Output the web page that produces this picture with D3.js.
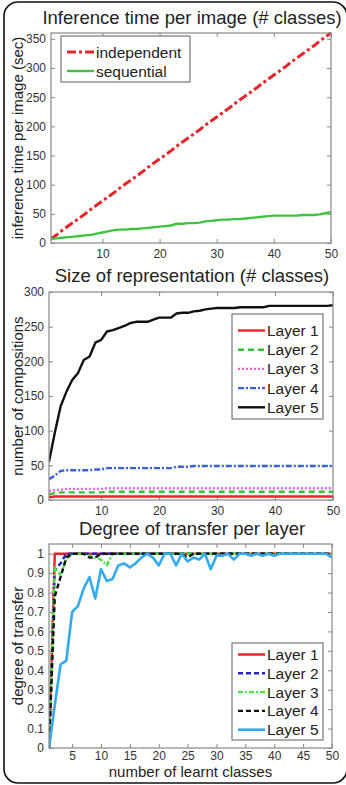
<!DOCTYPE html>
<html>
<head>
<meta charset="utf-8">
<script src="https://cdn.jsdelivr.net/npm/d3@7"></script>
<style>
  body { margin: 0; background: #fff; }
  svg { display: block; font-family: "Liberation Sans", Arial, sans-serif; }
</style>
</head>
<body>
<svg width="346" height="785"></svg>
<script>
// x = number of classes, 1..50
const classes = d3.range(1, 51);

// panel 1 : inference time (sec)
const independent = [7, 14, 22, 29, 36, 43, 50, 58, 65, 72, 79, 86, 94, 101, 108, 115, 122, 130, 137, 144,
  151, 158, 166, 173, 180, 187, 194, 202, 209, 216, 223, 230, 238, 245, 252, 259, 266, 274, 281, 288,
  295, 302, 310, 317, 324, 331, 338, 346, 353, 360];
const sequential = [7, 8, 9, 10, 11, 12, 13, 14, 16, 18, 20, 22, 23, 23, 24, 24, 25, 26, 27, 28,
  29, 30, 33, 33, 34, 34, 35, 37, 38, 39, 40, 40, 41, 41, 42, 43, 44, 45, 46, 47,
  47, 47, 47, 47, 48, 48, 48, 49, 51, 53];

// panel 2 : number of compositions
const comp1 = [4, 5, 5, 5, 5, 5, 5, 5, 5, 5, 5, 5, 5, 5, 5, 5, 5, 5, 5, 5,
  5, 5, 5, 5, 5, 5, 5, 5, 5, 5, 5, 5, 5, 5, 5, 5, 5, 5, 5, 5,
  5, 5, 5, 5, 5, 5, 5, 5, 5, 5];
const comp2 = [8, 10, 11, 11, 11, 11, 11, 11, 11, 11, 12, 12, 12, 12, 12, 12, 12, 12, 12, 12,
  12, 12, 12, 12, 12, 12, 12, 12, 12, 12, 12, 12, 12, 12, 12, 12, 12, 12, 12, 12,
  12, 12, 12, 12, 12, 12, 12, 12, 12, 12];
const comp3 = [13, 14, 15, 16, 16, 16, 16, 16, 16, 16, 17, 17, 17, 17, 17, 17, 17, 17, 17, 17,
  17, 17, 17, 17, 17, 17, 17, 17, 17, 17, 17, 17, 17, 17, 17, 17, 17, 17, 17, 17,
  17, 17, 17, 17, 17, 17, 17, 17, 17, 17];
const comp4 = [30, 35, 42, 43, 43, 43, 43, 43, 44, 44, 46, 46, 46, 46, 46, 46, 46, 46, 46, 46,
  46, 46, 48, 48, 48, 49, 49, 49, 49, 49, 49, 49, 49, 49, 49, 49, 49, 49, 49, 49,
  49, 49, 49, 49, 49, 49, 49, 49, 49, 49];
const comp5 = [55, 97, 135, 156, 173, 183, 202, 207, 227, 231, 243, 245, 248, 251, 255, 257, 257, 257, 260, 263,
  263, 263, 269, 270, 270, 272, 273, 275, 276, 277, 277, 277, 277, 278, 278, 278, 278, 278, 280, 280,
  280, 280, 280, 280, 280, 280, 280, 280, 280, 281];

// panel 3 : degree of transfer
const transfer1 = [0, 1, 1, 1, 1, 1, 1, 1, 1, 1, 1, 1, 1, 1, 1, 1, 1, 1, 1, 1,
  1, 1, 1, 1, 1, 1, 1, 1, 1, 1, 1, 1, 1, 1, 1, 1, 1, 1, 1, 1,
  1, 1, 1, 1, 1, 1, 1, 1, 1, 1];
const transfer2 = [0, 0.92, 0.95, 1, 1, 1, 1, 1, 1, 1, 1, 1, 1, 1, 1, 1, 1, 1, 1, 1,
  1, 1, 1, 1, 1, 1, 1, 1, 1, 1, 1, 1, 1, 1, 1, 1, 1, 1, 1, 1,
  1, 1, 1, 1, 1, 1, 1, 1, 1, 1];
const transfer3 = [0, 0.93, 0.89, 0.97, 1, 1, 1, 0.99, 0.98, 0.97, 0.94, 1, 1, 1, 1, 1, 1, 1, 1, 1,
  1, 1, 1, 1, 1, 1, 1, 1, 1, 1, 1, 1, 1, 1, 1, 1, 1, 1, 1, 1,
  1, 1, 1, 1, 1, 1, 1, 1, 1, 1];
const transfer4 = [0, 0.78, 0.88, 0.98, 1, 1, 1, 0.98, 0.98, 1, 1, 1, 1, 1, 1, 1, 1, 1, 1, 1,
  1, 1, 1, 1, 0.98, 1, 1, 1, 1, 1, 1, 1, 1, 1, 1, 1, 1, 1, 1, 1,
  1, 1, 1, 1, 1, 1, 1, 1, 1, 0.99];
const transfer5 = [0, 0.22, 0.43, 0.45, 0.70, 0.73, 0.82, 0.88, 0.77, 0.92, 0.86, 0.87, 0.94, 0.95, 0.93, 0.95, 0.98, 1, 0.98, 0.94,
  1, 1, 0.94, 1, 0.96, 0.98, 0.97, 1, 0.92, 0.99, 0.99, 1, 0.97, 1, 1, 0.99, 1, 0.99, 1, 0.99,
  1, 1, 1, 1, 1, 1, 1, 1, 1, 0.98];

// tick labels
const ticks1y = [0, 50, 100, 150, 200, 250, 300, 350];
const ticks1x = [10, 20, 30, 40, 50];
const ticks2y = [0, 50, 100, 150, 200, 250, 300];
const ticks2x = [10, 20, 30, 40, 50];
const ticks3y = [0, 0.1, 0.2, 0.3, 0.4, 0.5, 0.6, 0.7, 0.8, 0.9, 1];
const ticks3x = [5, 10, 15, 20, 25, 30, 35, 40, 45, 50];

const svg = d3.select("svg");

// cadre arrondi autour de la figure
svg.append("rect")
  .attr("x", 4).attr("y", 2)
  .attr("width", 343).attr("height", 781)
  .attr("rx", 14)
  .attr("fill", "none")
  .attr("stroke", "#111")
  .attr("stroke-width", 1.6);

function panel(p) {
  const x = d3.scaleLinear().domain([1, 50]).range([p.left, p.right]);
  const y = d3.scaleLinear().domain(p.ydom).range([p.bottom, p.top]);
  const g = svg.append("g");

  g.append("rect")
    .attr("x", p.left).attr("y", p.top)
    .attr("width", p.right - p.left).attr("height", p.bottom - p.top)
    .attr("fill", "#fff");

  // axes, ticks inside like matlab
  const fmt = p.fmt || (d => d);
  const ax = [
    [d3.axisBottom(x).tickValues(p.xticks).tickSize(-4).tickPadding(p.xpad || 6).tickFormat(fmt), `translate(0,${p.bottom})`],
    [d3.axisTop(x).tickValues(p.xticks).tickSize(-4).tickFormat(""), `translate(0,${p.top})`],
    [d3.axisLeft(y).tickValues(p.yticks).tickSize(-4).tickPadding(5).tickFormat(p.yfmt || fmt), `translate(${p.left},0)`],
    [d3.axisRight(y).tickValues(p.yticks).tickSize(-4).tickFormat(""), `translate(${p.right},0)`]
  ];
  ax.forEach(a => {
    const s = g.append("g").attr("transform", a[1]).call(a[0]);
    s.select(".domain").remove();
    s.selectAll("line").attr("stroke", "#888");
    s.selectAll("text")
      .attr("font-size", "12px")
      .attr("fill", "#333")
      .attr("font-family", "Liberation Sans, Arial, sans-serif");
  });

  // series
  const clip = "clip" + p.id;
  g.append("clipPath").attr("id", clip)
    .append("rect")
    .attr("x", p.left).attr("y", p.top - 2)
    .attr("width", p.right - p.left).attr("height", p.bottom - p.top + 4);

  const line = d3.line()
    .x((d, i) => x(classes[i]))
    .y(d => y(d));

  p.series.forEach(s => {
    g.append("path")
      .datum(s.values)
      .attr("clip-path", `url(#${clip})`)
      .attr("fill", "none")
      .attr("stroke", s.color)
      .attr("stroke-width", s.width || 2.4)
      .attr("stroke-dasharray", s.dash || null)
      .attr("stroke-linejoin", "round")
      .attr("d", line);
  });

  g.append("rect")
    .attr("x", p.left).attr("y", p.top)
    .attr("width", p.right - p.left).attr("height", p.bottom - p.top)
    .attr("fill", "none")
    .attr("stroke", "#888")
    .attr("stroke-width", 1.2);

  // titre
  g.append("text")
    .attr("x", 192).attr("y", p.titleY)
    .attr("text-anchor", "middle")
    .attr("font-size", "18.5px")
    .attr("fill", "#222")
    .text(p.title);

  // y label
  g.append("text")
    .attr("transform", `translate(23,${(p.top + p.bottom) / 2}) rotate(-90)`)
    .attr("text-anchor", "middle")
    .attr("font-size", "15px")
    .attr("fill", "#222")
    .text(p.ylabel);

  if (p.xlabel) {
    g.append("text")
      .attr("x", (p.left + p.right) / 2).attr("y", p.bottom + 29)
      .attr("text-anchor", "middle")
      .attr("font-size", "15px")
      .attr("fill", "#222")
      .text(p.xlabel);
  }

  // legende
  const L = p.legend;
  g.append("rect")
    .attr("x", L.x).attr("y", L.y)
    .attr("width", L.w).attr("height", L.h)
    .attr("fill", "#fff")
    .attr("stroke", "#777")
    .attr("stroke-width", 1.2);
  p.series.forEach((s, i) => {
    const yy = L.y + L.first + i * L.step;
    g.append("line")
      .attr("x1", L.x + 6).attr("x2", L.x + 33)
      .attr("y1", yy).attr("y2", yy)
      .attr("stroke", s.color)
      .attr("stroke-width", s.width || 2.4)
      .attr("stroke-dasharray", s.dash || null);
    g.append("text")
      .attr("x", L.x + 35).attr("y", yy + 5.5)
      .attr("font-size", "15.5px")
      .attr("fill", "#222")
      .text(s.name);
  });
}

panel({
  id: 1, left: 51, right: 331, top: 33, bottom: 243,
  ydom: [0, 360], yticks: ticks1y, xticks: ticks1x,
  title: "Inference time per image (# classes)", titleY: 24,
  ylabel: "inference time per image (sec)",
  legend: { x: 61, y: 36, w: 129, h: 46, first: 16, step: 19 },
  series: [
    { name: "independent", values: independent, color: "#e8242a", width: 3, dash: "9,3,3,3" },
    { name: "sequential", values: sequential, color: "#3fc33f", width: 2.4 }
  ]
});

panel({
  id: 2, left: 49, right: 333, top: 292, bottom: 500,
  ydom: [0, 300], yticks: ticks2y, xticks: ticks2x,
  title: "Size of representation (# classes)", titleY: 282,
  ylabel: "number of compositions",
  legend: { x: 232, y: 314, w: 91, h: 105, first: 16.5, step: 19.2 },
  series: [
    { name: "Layer 1", values: comp1, color: "#e8242a", width: 2.4 },
    { name: "Layer 2", values: comp2, color: "#2ec42e", width: 2.4, dash: "6,4" },
    { name: "Layer 3", values: comp3, color: "#e65ee6", width: 2.4, dash: "2,2" },
    { name: "Layer 4", values: comp4, color: "#3a5fdc", width: 2.4, dash: "6,2,2,2" },
    { name: "Layer 5", values: comp5, color: "#111", width: 2.4 }
  ]
});

panel({
  id: 3, left: 49, right: 332, top: 544, bottom: 748, xpad: 3,
  ydom: [0, 1.05], yticks: ticks3y, xticks: ticks3x,
  yfmt: d => d === 0 || d === 1 ? d : d.toFixed(1),
  title: "Degree of transfer per layer", titleY: 535,
  ylabel: "degree of transfer",
  xlabel: "number of learnt classes",
  legend: { x: 232, y: 643, w: 91, h: 97, first: 11.5, step: 18.8 },
  series: [
    { name: "Layer 1", values: transfer1, color: "#ec1c24", width: 2.4 },
    { name: "Layer 2", values: transfer2, color: "#2323c8", width: 2.4, dash: "5,3" },
    { name: "Layer 3", values: transfer3, color: "#44e644", width: 2.4, dash: "5,2,2,2" },
    { name: "Layer 4", values: transfer4, color: "#111", width: 2.4, dash: "5,3" },
    { name: "Layer 5", values: transfer5, color: "#33aaee", width: 2.6 }
  ]
});
</script>
</body>
</html>
